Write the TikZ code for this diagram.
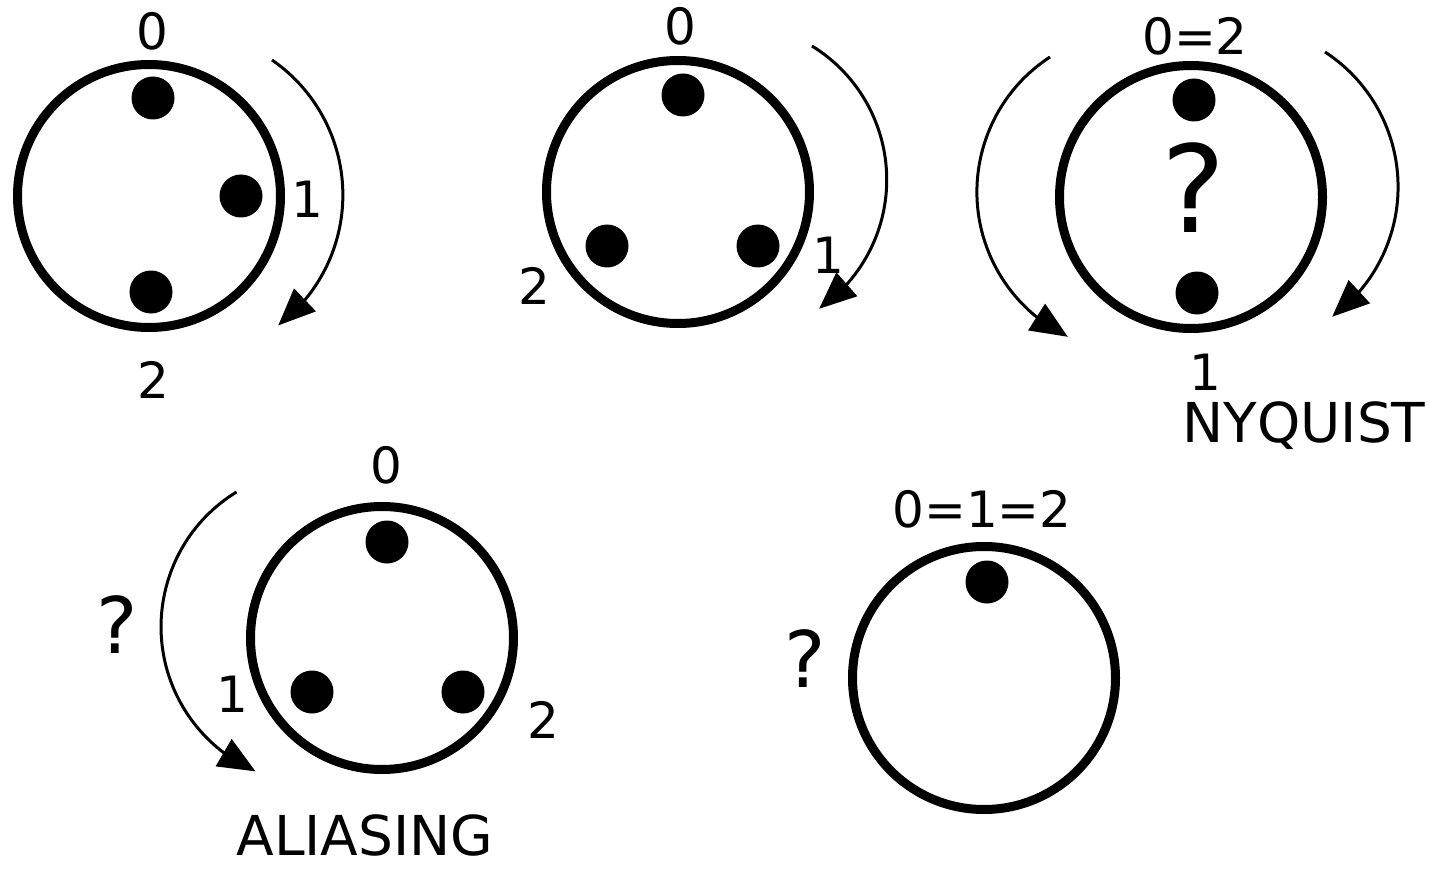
\documentclass[tikz,border=0pt]{standalone}
\usepackage{fontspec}
\setmainfont{DejaVu Sans}
\usetikzlibrary{arrows.meta,bending}

\begin{document}
\begin{tikzpicture}[x=1pt,y=-1pt,
  ring/.style={draw,circle,line width=9pt,minimum size=263pt,inner sep=0pt},
  dot/.style={fill,circle,minimum size=43pt,inner sep=0pt},
  num/.style={anchor=base,inner sep=0pt,font=\fontsize{50}{60}\selectfont},
  ask/.style={anchor=base,inner sep=0pt,font=\fontsize{#1}{90}\selectfont},
  word/.style={anchor=base,inner sep=0pt,font=\fontsize{55}{66}\selectfont},
  rot/.style={-{Triangle[length=37pt,width=31pt,flex]},line width=3pt}]
\useasboundingbox (0,0) rectangle (1430,869);
% three samples per turn
\node[ring] (c1) at (149,196) {};
\node[dot] (c1d0) at (153,98) {};
\node[dot] (c1d1) at (241,196) {};
\node[dot] (c1d2) at (151,292) {};
\node[num] (c1l0) at (152,50) {0};
\node[num] (c1l1) at (307,218) {1};
\node[num] (c1l2) at (153,398) {2};
\coordinate (r1) at (272,60);
\draw[rot] (r1) arc[start angle=55.4,end angle=-52.7,radius=164pt];
% faster turn
\node[ring] (c2) at (678,192) {};
\node[dot] (c2d0) at (683,95) {};
\node[dot] (c2d1) at (758,246) {};
\node[dot] (c2d2) at (607,246) {};
\node[num] (c2l0) at (680,45) {0};
\node[num] (c2l1) at (828,273) {1};
\node[num] (c2l2) at (534,305) {2};
\coordinate (r2) at (812,46);
\draw[rot] (r2) arc[start angle=58.4,end angle=-55.3,radius=157pt];
% Nyquist
\node[ring] (c3) at (1191,197) {};
\node[dot] (c3d0) at (1194,100) {};
\node[dot] (c3d1) at (1197,293) {};
\node[ask=121] (c3q) at (1194,233) {?};
\node[num] (c3l0) at (1195,55) {0=2};
\node[num] (c3l1) at (1205,390) {1};
\node[word] (nyq) at (1304,442) {NYQUIST};
\coordinate (r3) at (1050,57);
\draw[rot] (r3) arc[start angle=123.1,end angle=244.2,radius=161pt];
\coordinate (r4) at (1325,52);
\draw[rot] (r4) arc[start angle=56.9,end angle=-53.8,radius=161pt];
% aliasing
\node[ring] (c4) at (382,638) {};
\node[dot] (c4d0) at (387,542) {};
\node[dot] (c4d1) at (312,692) {};
\node[dot] (c4d2) at (463,692) {};
\node[num] (c4l0) at (386,483) {0};
\node[num] (c4l1) at (232,712) {1};
\node[num] (c4l2) at (543,738) {2};
\node[ask=78] (c4q) at (117,653) {?};
\node[word] (ali) at (365,855) {ALIASING};
\coordinate (r5) at (236.5,492);
\draw[rot] (r5) arc[start angle=121.5,end angle=246.3,radius=158pt];
% one sample per turn
\node[ring] (c5) at (984,678) {};
\node[dot] (c5d0) at (987,582) {};
\node[num] (c5l0) at (982,527) {0=1=2};
\node[ask=78] (c5q) at (805,687) {?};
\end{tikzpicture}
\end{document}
